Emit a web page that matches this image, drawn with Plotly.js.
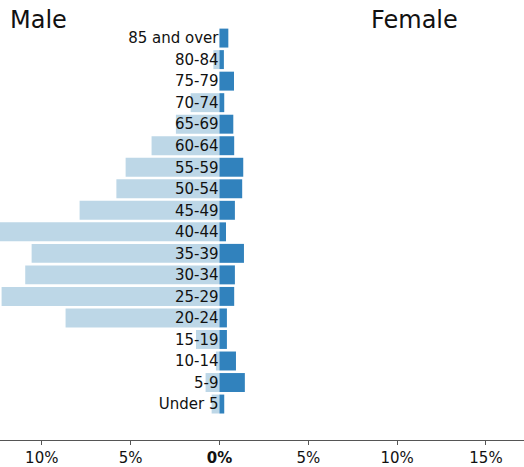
<!DOCTYPE html>
<html><head><meta charset="utf-8">
<script src="https://cdn.plot.ly/plotly-3.0.1.min.js"></script>
<style>html,body{margin:0;padding:0;background:#fff}#chart{width:524px;height:467px}</style>
</head><body><div id="chart"></div>
<script>
var ageGroups = ["Under 5","5-9","10-14","15-19","20-24","25-29","30-34","35-39","40-44","45-49","50-54","55-59","60-64","65-69","70-74","75-79","80-84","85 and over"];
var malePct =   [0.44, 0.78, 0.2, 1.32, 8.66, 12.26, 10.93, 10.57, 12.6, 7.87, 5.8, 5.28, 3.82, 2.45, 1.62, 0, 0.34, 0];
var femalePct = [0.27, 1.43, 0.93, 0.42, 0.42, 0.83, 0.87, 1.38, 0.37, 0.87, 1.28, 1.34, 0.83, 0.78, 0.27, 0.82, 0.25, 0.5];
var tickVals = [-10, -5, 0, 5, 10, 15];
var tickText = ["10%", "5%", "<b>0%</b>", "5%", "10%", "15%"];

var font = "DejaVu Sans, sans-serif";
var traces = [
  {type:'bar', orientation:'h', name:'Male', y:ageGroups, x:malePct.map(function(v){return -v;}),
   marker:{color:'#bdd7e7', line:{width:0}}, hoverinfo:'skip'},
  {type:'bar', orientation:'h', name:'Female', y:ageGroups, x:femalePct,
   marker:{color:'#3182bd', line:{width:0}}, hoverinfo:'skip'}
];
var layout = {
  width:524, height:467,
  margin:{l:0, r:0, t:20, b:27, pad:0},
  barmode:'relative', bargap:0.12,
  showlegend:false,
  paper_bgcolor:'#fff', plot_bgcolor:'#fff',
  font:{family:font, size:15, color:'#111'},
  xaxis:{range:[-12.35, 17.14], tickvals:tickVals, ticktext:tickText, showgrid:false, zeroline:false,
    showline:true, linecolor:'#555', linewidth:1, ticks:'outside', ticklen:4, tickcolor:'#555',
    tickfont:{family:font, size:15, color:'#111'}, fixedrange:true},
  yaxis:{type:'category', categoryorder:'array', categoryarray:ageGroups, range:[-1.67, 17.84],
    anchor:'free', position:0.4189, showgrid:false, zeroline:false, showline:false, ticks:'',
    ticklabelstandoff:1,
    tickfont:{family:font, size:15, color:'#111'}, fixedrange:true},
  annotations:[
    {text:'Male', xref:'paper', yref:'paper', x:0.015, y:1, xanchor:'left', yanchor:'middle', yshift:0,
     showarrow:false, font:{family:font, size:24, color:'#111'}},
    {text:'Female', xref:'paper', yref:'paper', x:0.704, y:1, xanchor:'left', yanchor:'middle',
     showarrow:false, font:{family:font, size:24, color:'#111'}}
  ]
};
Plotly.newPlot('chart', traces, layout, {displayModeBar:false, staticPlot:true});
</script></body></html>
